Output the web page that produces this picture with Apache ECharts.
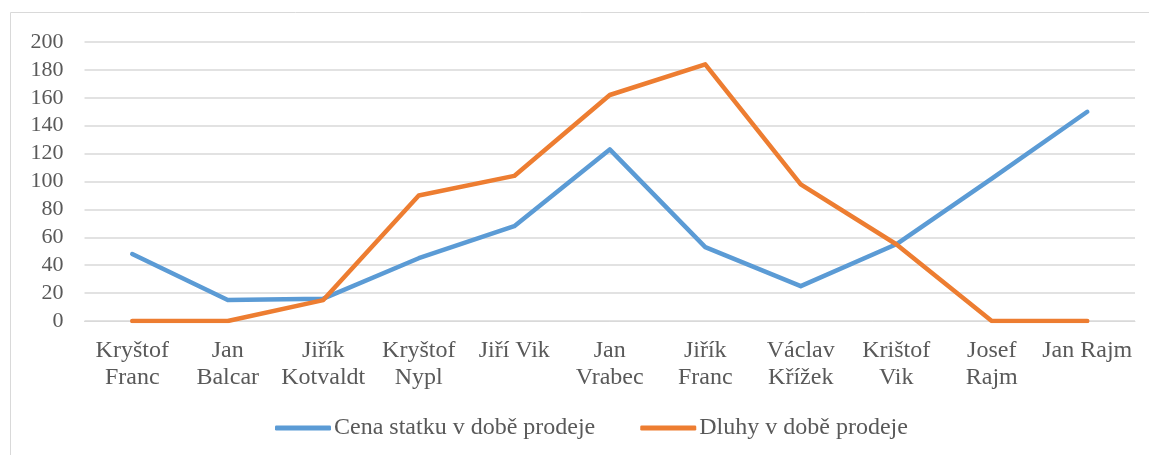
<!DOCTYPE html>
<html><head><meta charset="utf-8">
<script src="https://cdn.jsdelivr.net/npm/echarts@6/dist/echarts.min.js"></script>
<style>html,body{margin:0;padding:0;background:#fff}#c{width:1149px;height:455px}</style>
</head><body><div id="c"></div>
<script>
const categories = ['Kryštof\nFranc','Jan\nBalcar','Jiřík\nKotvaldt','Kryštof\nNypl','Jiří Vik','Jan\nVrabec','Jiřík\nFranc','Václav\nKřížek','Krištof\nVik','Josef\nRajm','Jan Rajm'];
const cena = [48, 15, 16, 45, 68, 123, 53, 25, 55, 102, 150];
const dluhy = [0, 0, 15, 90, 104, 162, 184, 98, 55, 0, 0];
const yTicks = {min: 0, max: 200, interval: 20};
const seriesNames = ['Cena statku v době prodeje', 'Dluhy v době prodeje'];
const font = '"Liberation Serif", "Times New Roman", serif';
const chart = echarts.init(document.getElementById('c'));
chart.setOption({
  animation: false,
  textStyle: {fontFamily: font},
  graphic: [{type: 'rect', shape: {x: 10.5, y: 12.5, width: 1300, height: 600}, style: {fill: 'none', stroke: '#d9d9d9', lineWidth: 1}, silent: true}],
  grid: {left: 84.5, right: 14, top: 42, bottom: 134, containLabel: false},
  legend: {
    bottom: 10, left: 270, itemWidth: 56, itemHeight: 5, itemGap: 45,
    icon: 'roundRect',
    textStyle: {fontFamily: font, fontSize: 24, color: '#595959', padding: [0, 0, 0, -2]},
    data: seriesNames
  },
  xAxis: {
    type: 'category', data: categories, boundaryGap: true,
    axisLine: {show: true, lineStyle: {color: '#d9d9d9', width: 1}},
    axisTick: {show: false},
    axisLabel: {interval: 0, fontFamily: font, fontSize: 24, color: '#595959', lineHeight: 27, margin: 16}
  },
  yAxis: {
    type: 'value', min: yTicks.min, max: yTicks.max, interval: yTicks.interval,
    axisLine: {show: false}, axisTick: {show: false},
    splitLine: {lineStyle: {color: '#d9d9d9', width: 1.5}},
    axisLabel: {fontFamily: font, fontSize: 22, color: '#595959', margin: 21}
  },
  series: [
    {name: seriesNames[0], type: 'line', data: cena, symbol: 'none', color: '#5B9BD5',
     lineStyle: {width: 4.5, color: '#5B9BD5', cap: 'round', join: 'round'}},
    {name: seriesNames[1], type: 'line', data: dluhy, symbol: 'none', color: '#ED7D31',
     lineStyle: {width: 4.5, color: '#ED7D31', cap: 'round', join: 'round'}}
  ]
});
</script></body></html>
